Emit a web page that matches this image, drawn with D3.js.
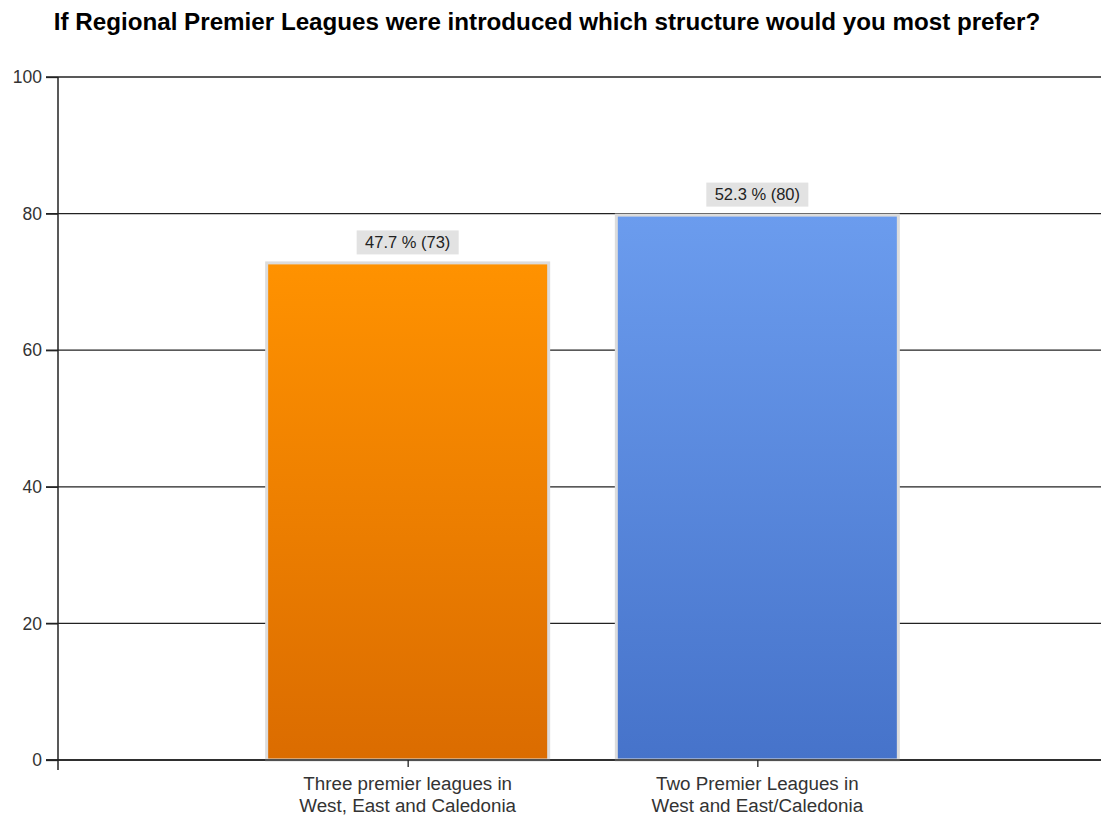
<!DOCTYPE html>
<html><head><meta charset="utf-8">
<script src="https://cdn.jsdelivr.net/npm/d3@7"></script>
<style>body{margin:0;background:#fff;} text{font-family:"Liberation Sans",Arial,sans-serif;}</style>
</head><body>
<svg id="c" width="1101" height="817"></svg>
<script>
const title = "If Regional Premier Leagues were introduced which structure would you most prefer?";
const categories = [["Three premier leagues in","West, East and Caledonia"],["Two Premier Leagues in","West and East/Caledonia"]];
const values = [73, 80];
const labels = ["47.7 % (73)", "52.3 % (80)"];
const yTicks = [0, 20, 40, 60, 80, 100];
const gradients = [["#ff9200","#db6c00"],["#6b9cee","#4673ca"]];

const svg = d3.select("#c");
const x0 = 58, x1 = 1107, yTop = 77, yBot = 760;
const x = d3.scalePoint().domain(d3.range(values.length)).range([x0, x1]).padding(1);
const y = d3.scaleLinear().domain([0, 100]).range([yBot, yTop]);
const barW = 285;

const defs = svg.append("defs");
gradients.forEach((g,i)=>{
  const lg = defs.append("linearGradient").attr("id","g"+i).attr("x1",0).attr("y1",0).attr("x2",0).attr("y2",1);
  lg.append("stop").attr("offset","0%").attr("stop-color",g[0]);
  lg.append("stop").attr("offset","100%").attr("stop-color",g[1]);
});

svg.append("text").attr("x",547).attr("y",30).attr("text-anchor","middle")
  .attr("font-weight","bold").attr("font-size",24.2).attr("fill","#000").text(title);

// gridlines
svg.append("g").selectAll("line").data(yTicks).join("line")
  .attr("x1",46).attr("x2",1101).attr("y1",d=>y(d)).attr("y2",d=>y(d))
  .attr("stroke","#222").attr("stroke-width",1.3);

// y axis labels + ticks
const ya = svg.append("g").attr("transform",`translate(${x0},0)`)
  .call(d3.axisLeft(y).tickValues(yTicks).tickSize(12).tickPadding(4));
ya.select(".domain").remove();
ya.selectAll("line").attr("stroke","#222").attr("stroke-width",1.3);
ya.selectAll("text").attr("font-size",17.5).attr("fill","#333").attr("font-family","Liberation Sans, Arial, sans-serif");

// bars
svg.append("g").selectAll("rect").data(values).join("rect")
  .attr("x",(d,i)=>x(i)-barW/2+1.5).attr("width",barW-3)
  .attr("y",d=>y(d)+1.5).attr("height",d=>yBot-y(d)-1.5)
  .attr("fill",(d,i)=>`url(#g${i})`).attr("stroke","#dcdcdc").attr("stroke-width",3);

// value labels
const lg = svg.append("g").selectAll("g").data(values).join("g")
  .attr("transform",(d,i)=>`translate(${x(i)},${y(d)-19})`);
lg.append("rect").attr("x",-51).attr("width",102).attr("y",-12).attr("height",24).attr("fill","#e2e2e2");
lg.append("text").attr("text-anchor","middle").attr("dy","0.35em").attr("font-size",16.5).attr("fill","#222")
  .text((d,i)=>labels[i]);

// y axis line & x axis line
svg.append("line").attr("x1",x0).attr("x2",x0).attr("y1",yTop).attr("y2",770).attr("stroke","#222").attr("stroke-width",1.5);
const xa = svg.append("g").attr("transform",`translate(0,${yBot})`)
  .call(d3.axisBottom(x).tickSize(7).tickFormat(""));
xa.select(".domain").remove();
xa.selectAll("line").attr("stroke","#222").attr("stroke-width",1.3);
svg.append("line").attr("x1",46).attr("x2",1101).attr("y1",yBot).attr("y2",yBot).attr("stroke","#222").attr("stroke-width",1.5);

// category labels
svg.append("g").selectAll("text").data(categories).join("text")
  .attr("x",(d,i)=>x(i)).attr("y",790).attr("text-anchor","middle").attr("font-size",18.8).attr("fill","#333")
  .selectAll("tspan").data(d=>d).join("tspan")
  .attr("x",function(){return d3.select(this.parentNode).attr("x");})
  .attr("dy",(d,j)=>j?22:0).text(d=>d);
</script>
</body></html>
